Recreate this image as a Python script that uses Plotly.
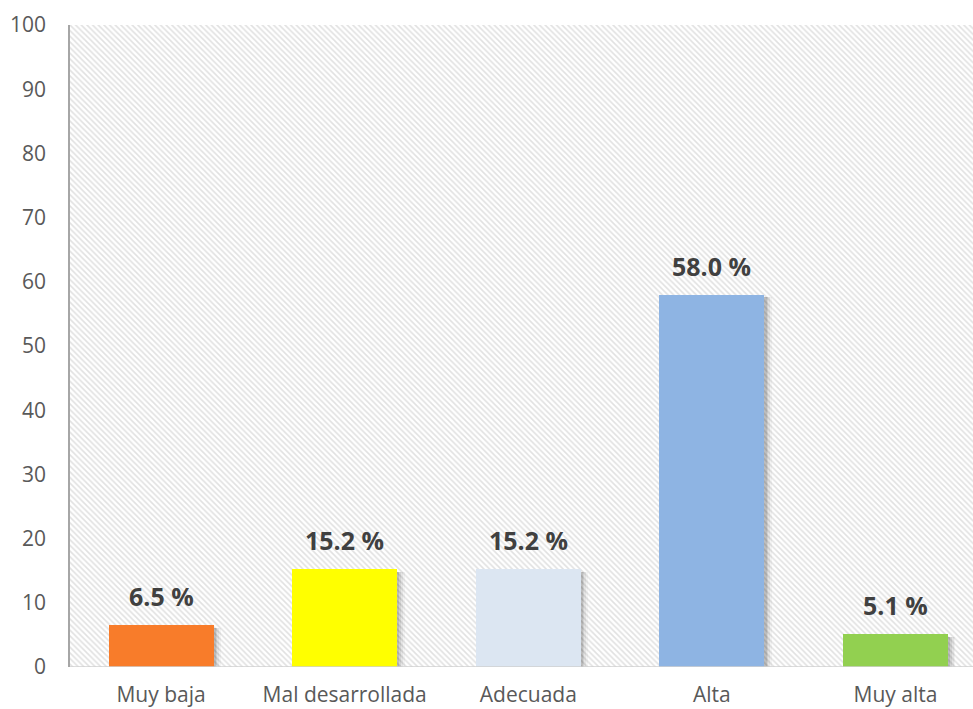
import plotly.graph_objects as go

categories = ["Muy baja", "Mal desarrollada", "Adecuada", "Alta", "Muy alta"]
values = [6.5, 15.2, 15.2, 58.0, 5.1]
colors = ["#F87C2A", "#FFFF00", "#DCE6F2", "#8EB4E3", "#92D050"]
y_ticks = [0, 10, 20, 30, 40, 50, 60, 70, 80, 90, 100]
y_max = 100

FONT = "'Open Sans', 'Noto Sans', sans-serif"
BW = 0.572

fig = go.Figure()

# hatched plot-area background
fig.add_trace(go.Bar(
    x=categories, y=[y_max] * len(categories), width=1.0,
    marker=dict(color="white", line=dict(width=0),
                pattern=dict(shape="\\", fgcolor="#c4c4c4", bgcolor="white",
                             size=4, solidity=0.4)),
    hoverinfo="skip", showlegend=False,
))

# soft shadows
for dx, a in [(0.040, 0.04), (0.030, 0.06), (0.020, 0.08), (0.012, 0.10)]:
    fig.add_trace(go.Bar(
        x=categories, y=values, width=BW, offset=-BW / 2 + dx,
        base=[-0.4] * len(values),
        marker=dict(color=f"rgba(0,0,0,{a})", line=dict(width=0)),
        hoverinfo="skip", showlegend=False,
    ))

fig.add_trace(go.Bar(
    x=categories, y=values, width=BW, offset=-BW / 2,
    marker=dict(color=colors, line=dict(width=0)),
    showlegend=False,
))

for c, v in zip(categories, values):
    fig.add_annotation(
        x=c, y=v, text=f"<b>{v:.1f} %</b>", showarrow=False,
        yanchor="bottom", yshift=10,
        font=dict(family=FONT, size=25, color="#404040"),
    )

fig.update_layout(
    width=973, height=709,
    margin=dict(l=70, r=0, t=25, b=42),
    paper_bgcolor="white", plot_bgcolor="white",
    barmode="overlay", bargap=0,
    xaxis=dict(
        range=[-0.496, 4.422], showgrid=False,
        showline=False, zeroline=False, ticks="", automargin=False,
        tickfont=dict(family=FONT, size=21, color="#595959"),
        ticklabelstandoff=13,
    ),
    yaxis=dict(
        range=[0, y_max], tickvals=y_ticks, showgrid=False,
        showline=True, linecolor="#a6a6a6", linewidth=1.5,
        zeroline=False, ticks="", automargin=False,
        tickfont=dict(family=FONT, size=21, color="#595959"),
        ticklabelstandoff=18,
    ),
)

fig.add_shape(type="line", xref="paper", yref="y", x0=0, x1=1, y0=0, y1=0,
              line=dict(color="#d0d0d0", width=1.5))

fig.write_html("out.html", config={"displayModeBar": False},
               post_script="document.body.style.margin='0';")
